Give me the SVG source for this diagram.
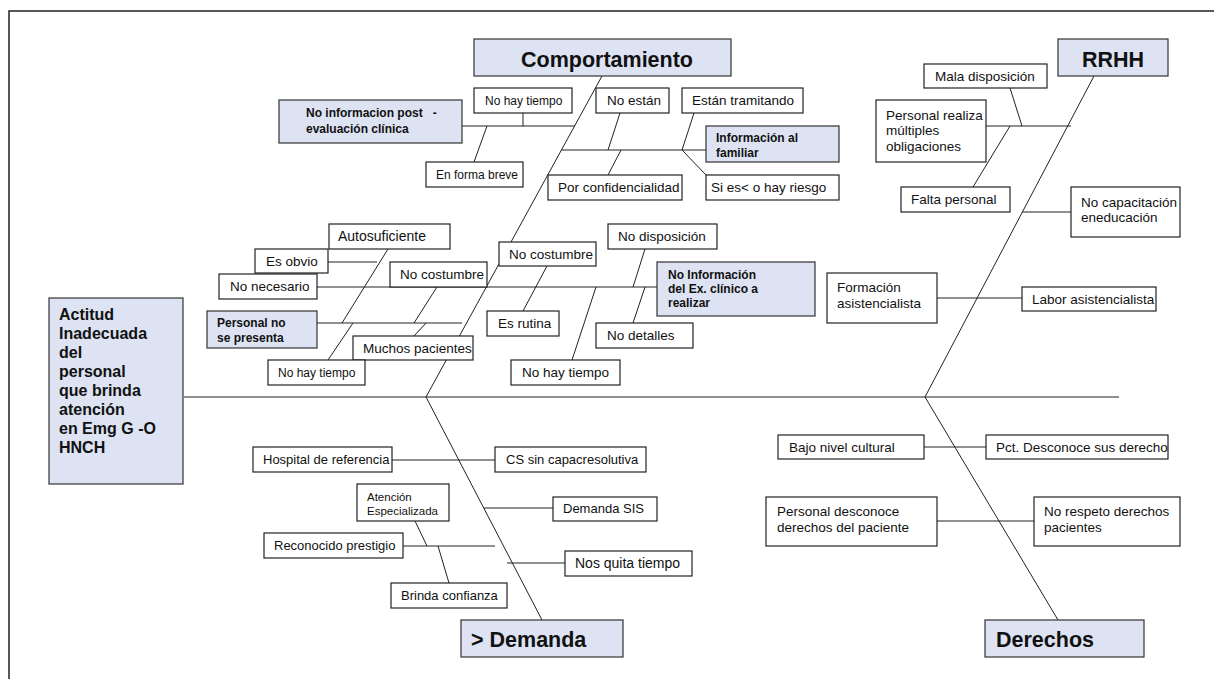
<svg xmlns="http://www.w3.org/2000/svg" width="1214" height="679" viewBox="0 0 1214 679">
<style>
.ln{stroke:#222;stroke-width:1;fill:none}
.bx{fill:#fff;stroke:#222;stroke-width:1.2}
.bb{fill:#dde3f3;stroke:#333;stroke-width:1.2}
text{font-family:"Liberation Sans",Arial,sans-serif;fill:#111}
.t{font-size:13.5px}
.s{font-size:12px}
.m{font-size:13px}
.xs{font-size:11.5px}
.l{font-size:14px}
.bs{font-size:12px;font-weight:bold}
.h{font-size:21.5px;font-weight:bold}
.hd{font-size:16px;font-weight:bold}
</style>
<rect x="0" y="0" width="1214" height="679" fill="#fff"/>
<rect x="9" y="11" width="1230" height="700" fill="none" stroke="#222" stroke-width="1.5"/>
<g id="connectors">
<path class="ln" d="M184 397H1119"/>
<path class="ln" d="M602 76L426 397"/>
<path class="ln" d="M426 397L542 620"/>
<path class="ln" d="M1094 76L925 397"/>
<path class="ln" d="M925 397L1058 620"/>
<path class="ln" d="M462 126H575"/>
<path class="ln" d="M523 113V126"/>
<path class="ln" d="M487 126L474 162"/>
<path class="ln" d="M561 150H706"/>
<path class="ln" d="M620 113L608 150"/>
<path class="ln" d="M694 113L682 150"/>
<path class="ln" d="M621 150L608 175"/>
<path class="ln" d="M682 150L706 175"/>
<path class="ln" d="M317 287H657"/>
<path class="ln" d="M328 262H377"/>
<path class="ln" d="M388 249L342 323"/>
<path class="ln" d="M317 323H462"/>
<path class="ln" d="M328 360L353 323"/>
<path class="ln" d="M437 287L414 323"/>
<path class="ln" d="M426 323L414 336"/>
<path class="ln" d="M547 266L523 311"/>
<path class="ln" d="M645 249L633 287"/>
<path class="ln" d="M633 323L645 287"/>
<path class="ln" d="M572 360L596 287"/>
<path class="ln" d="M392 460H495"/>
<path class="ln" d="M484 508H553"/>
<path class="ln" d="M403 546H495"/>
<path class="ln" d="M415 521L427 546"/>
<path class="ln" d="M438 546L449 583"/>
<path class="ln" d="M507 563H565"/>
<path class="ln" d="M924 447H986"/>
<path class="ln" d="M937 521H1034"/>
<path class="ln" d="M1010 88L1022 126"/>
<path class="ln" d="M986 126H1071"/>
<path class="ln" d="M973 187L1010 126"/>
<path class="ln" d="M1022 212H1071"/>
<path class="ln" d="M937 298H1022"/>
</g>
<g id="head"><rect class="bb" x="49" y="298" width="134" height="186"/>
<text class="hd" x="59" y="320">Actitud</text><text class="hd" x="59" y="339">Inadecuada</text><text class="hd" x="59" y="358">del</text><text class="hd" x="59" y="377">personal</text><text class="hd" x="59" y="396">que brinda</text><text class="hd" x="59" y="415">atención</text><text class="hd" x="59" y="434">en Emg G -O</text><text class="hd" x="59" y="453">HNCH</text></g>
<g id="comportamiento"><rect class="bb" x="474" y="39" width="257" height="37"/><text class="h" x="607" y="67" text-anchor="middle">Comportamiento</text></g>
<g id="rrhh"><rect class="bb" x="1058" y="39" width="110" height="37"/><text class="h" x="1113" y="67" text-anchor="middle">RRHH</text></g>
<g id="demanda"><rect class="bb" x="461" y="620" width="162" height="37"/><text class="h" x="471" y="647">&gt; Demanda</text></g>
<g id="derechos"><rect class="bb" x="985" y="620" width="159" height="37"/><text class="h" x="996" y="647">Derechos</text></g>
<g id="no-info-post"><rect class="bb" x="279" y="100" width="183" height="43"/><text class="bs" x="306" y="117" xml:space="preserve">No informacion post   -</text><text class="bs" x="306" y="133">evaluación clínica</text></g>
<g id="no-hay-tiempo-1"><rect class="bx" x="474" y="88" width="98" height="25"/><text class="s" x="485" y="105">No hay tiempo</text></g>
<g id="en-forma-breve"><rect class="bx" x="426" y="162" width="97" height="25"/><text class="s" x="436" y="179">En forma breve</text></g>
<g id="info-familiar"><rect class="bb" x="706" y="126" width="133" height="36"/><text class="bs" x="716" y="142">Información al</text><text class="bs" x="716" y="157">familiar</text></g>
<g id="no-estan"><rect class="bx" x="596" y="88" width="73" height="25"/><text class="t" x="607" y="105">No están</text></g>
<g id="estan-tramitando"><rect class="bx" x="682" y="88" width="121" height="25"/><text class="t" x="692" y="105">Están tramitando</text></g>
<g id="por-confidencialidad"><rect class="bx" x="548" y="175" width="134" height="25"/><text class="t" x="558" y="192">Por confidencialidad</text></g>
<g id="si-es"><rect class="bx" x="706" y="175" width="133" height="25"/><text class="t" x="711" y="192">Si es&lt; o hay riesgo</text></g>
<g id="autosuficiente"><rect class="bx" x="329" y="224" width="121" height="25"/><text class="l" x="338" y="241">Autosuficiente</text></g>
<g id="es-obvio"><rect class="bx" x="255" y="249" width="73" height="24"/><text class="t" x="266" y="266">Es obvio</text></g>
<g id="no-necesario"><rect class="bx" x="219" y="274" width="98" height="25"/><text class="t" x="230" y="291">No necesario</text></g>
<g id="no-costumbre-1"><rect class="bx" x="390" y="262" width="97" height="25"/><text class="t" x="400" y="279">No costumbre</text></g>
<g id="no-costumbre-2"><rect class="bx" x="499" y="242" width="97" height="24"/><text class="t" x="509" y="259">No costumbre</text></g>
<g id="personal-no-se-presenta"><rect class="bb" x="207" y="311" width="110" height="37"/><text class="bs" x="217" y="327">Personal no</text><text class="bs" x="217" y="342">se presenta</text></g>
<g id="muchos-pacientes"><rect class="bx" x="353" y="336" width="120" height="24"/><text class="t" x="363" y="353">Muchos pacientes</text></g>
<g id="no-hay-tiempo-2"><rect class="bx" x="268" y="360" width="97" height="25"/><text class="s" x="278" y="377">No hay tiempo</text></g>
<g id="es-rutina"><rect class="bx" x="487" y="311" width="72" height="25"/><text class="t" x="498" y="328">Es rutina</text></g>
<g id="no-disposicion"><rect class="bx" x="608" y="224" width="109" height="25"/><text class="t" x="618" y="241">No disposición</text></g>
<g id="no-info-ex"><rect class="bb" x="657" y="262" width="158" height="54"/><text class="bs" x="668" y="279">No Información</text><text class="bs" x="668" y="293">del Ex. clínico a</text><text class="bs" x="668" y="307">realizar</text></g>
<g id="no-detalles"><rect class="bx" x="596" y="323" width="97" height="25"/><text class="t" x="607" y="340">No detalles</text></g>
<g id="no-hay-tiempo-3"><rect class="bx" x="511" y="360" width="109" height="25"/><text class="t" x="522" y="377">No hay tiempo</text></g>
<g id="mala-disposicion"><rect class="bx" x="924" y="64" width="123" height="24"/><text class="t" x="935" y="81">Mala disposición</text></g>
<g id="personal-realiza"><rect class="bx" x="876" y="100" width="110" height="62"/><text class="t" x="886" y="120">Personal realiza</text><text class="t" x="886" y="135">múltiples</text><text class="t" x="886" y="151">obligaciones</text></g>
<g id="falta-personal"><rect class="bx" x="901" y="187" width="109" height="25"/><text class="t" x="911" y="204">Falta personal</text></g>
<g id="no-capacitacion"><rect class="bx" x="1071" y="187" width="109" height="50"/><text class="t" x="1081" y="207">No capacitación</text><text class="t" x="1081" y="222">eneducación</text></g>
<g id="formacion"><rect class="bx" x="827" y="273" width="110" height="50"/><text class="t" x="837" y="292">Formación</text><text class="t" x="837" y="308">asistencialista</text></g>
<g id="labor"><rect class="bx" x="1022" y="287" width="134" height="24"/><text class="t" x="1032" y="304">Labor asistencialista</text></g>
<g id="hospital"><rect class="bx" x="253" y="447" width="139" height="25"/><text class="m" x="263" y="464">Hospital de referencia</text></g>
<g id="cs-sin"><rect class="bx" x="495" y="447" width="151" height="25"/><text class="m" x="506" y="464">CS sin capacresolutiva</text></g>
<g id="atencion"><rect class="bx" x="357" y="484" width="92" height="37"/><text class="xs" x="367" y="501">Atención</text><text class="xs" x="367" y="515">Especializada</text></g>
<g id="demanda-sis"><rect class="bx" x="553" y="497" width="104" height="24"/><text class="m" x="563" y="513">Demanda SIS</text></g>
<g id="reconocido"><rect class="bx" x="264" y="533" width="139" height="25"/><text class="m" x="274" y="550">Reconocido prestigio</text></g>
<g id="nos-quita"><rect class="bx" x="565" y="551" width="127" height="25"/><text class="l" x="575" y="568">Nos quita tiempo</text></g>
<g id="brinda"><rect class="bx" x="391" y="583" width="116" height="25"/><text class="m" x="401" y="600">Brinda confianza</text></g>
<g id="bajo-nivel"><rect class="bx" x="778" y="435" width="146" height="24"/><text class="t" x="789" y="452">Bajo nivel cultural</text></g>
<g id="pct"><rect class="bx" x="986" y="435" width="182" height="24"/><text class="t" x="996" y="452">Pct. Desconoce sus derecho</text></g>
<g id="personal-desconoce"><rect class="bx" x="766" y="497" width="171" height="49"/><text class="t" x="777" y="516">Personal desconoce</text><text class="t" x="777" y="532">derechos del paciente</text></g>
<g id="no-respeto"><rect class="bx" x="1034" y="497" width="146" height="49"/><text class="t" x="1044" y="516">No respeto derechos</text><text class="t" x="1044" y="532">pacientes</text></g>
</svg>
